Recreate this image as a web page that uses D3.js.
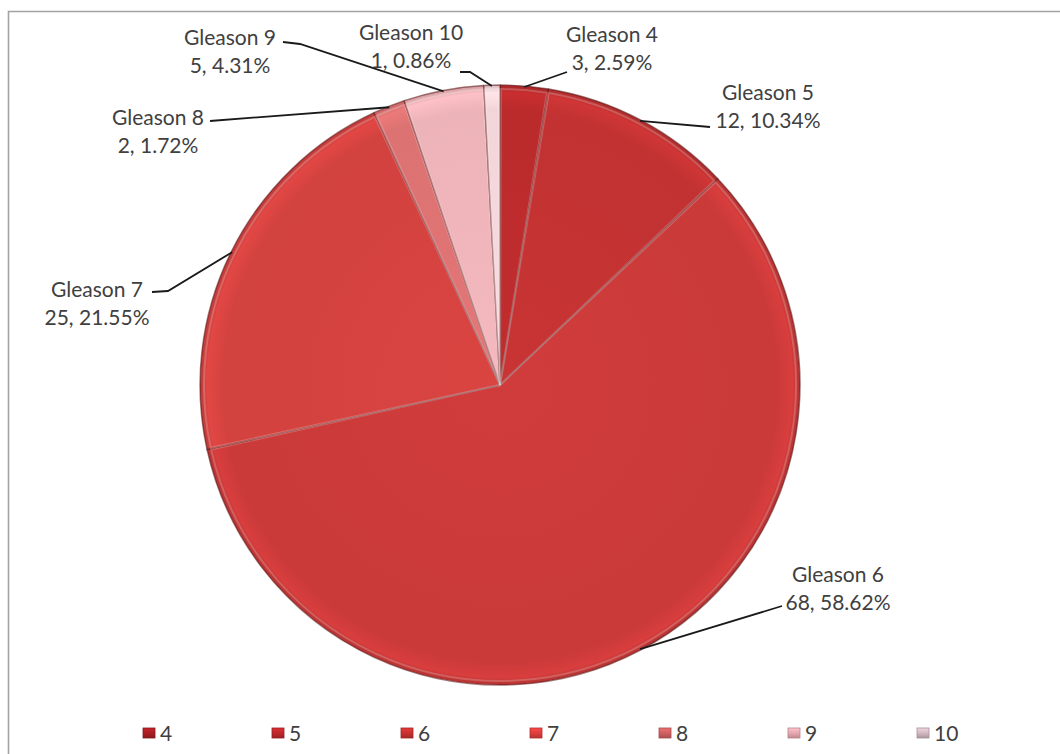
<!DOCTYPE html>
<html>
<head>
<meta charset="utf-8">
<script src="https://cdn.jsdelivr.net/npm/d3@7"></script>
<style>
  html, body { margin: 0; padding: 0; background: #fff; }
  svg { display: block; }
  text { font-family: Lato, "Open Sans", sans-serif; fill: #404040; }
</style>
</head>
<body>
<svg id="chart" width="1060" height="754"></svg>
<script>
// Gleason score distribution
const grades = ["4", "5", "6", "7", "8", "9", "10"];
const counts = [3, 12, 68, 25, 2, 5, 1];
const percents = ["2.59%", "10.34%", "58.62%", "21.55%", "1.72%", "4.31%", "0.86%"];

// slice fills and legend swatch fills
const sliceColors = ["#bb2b2c", "#c23232", "#c93a39", "#d2423f", "#dc7272", "#ecb3b8", "#f2d5d9"];
const swatchColors = ["#a51d22", "#b9262a", "#c2302d", "#d93c3c", "#c95e5f", "#e2a3ab", "#cbb3bb"];

// label placement: where each leader line ends and where its two text lines sit
const labelLayout = [
  { end: [567, 72],  text: [612, 35],  elbow: null },
  { end: [710, 127], text: [768, 93],  elbow: null },
  { end: [782, 606], text: [838, 575], elbow: null },
  { end: [152, 292], text: [97, 290],  elbow: [168, 291] },
  { end: [210, 121], text: [158, 118], elbow: null },
  { end: [283, 42],  text: [230, 38],  elbow: [300, 44] },
  { end: [460, 72],  text: [411, 33],  elbow: [470, 72] }
];

const svg = d3.select("#chart");
const cx = 500, cy = 385, R = 300;

// chart frame (top and left edges)
svg.append("path")
  .attr("d", "M8.5,754 L8.5,11.5 L1060,11.5")
  .attr("fill", "none")
  .attr("stroke", "#a3a3a3")
  .attr("stroke-width", 1.6);

const data = grades.map((g, i) => ({ grade: g, count: counts[i], pct: percents[i], i }));

const pie = d3.pie().value(d => d.count).sort(null);
const arcs = pie(data);
const arc = d3.arc().innerRadius(0).outerRadius(R);

// bevel-style gradient for each slice (coordinates local to the pie group)
const defs = svg.append("defs");
arcs.forEach((a, i) => {
  const c = d3.color(sliceColors[i]);
  const g = defs.append("radialGradient")
    .attr("id", "sg" + i)
    .attr("gradientUnits", "userSpaceOnUse")
    .attr("cx", 0).attr("cy", 0).attr("r", R);
  g.append("stop").attr("offset", "0%").attr("stop-color", c.brighter(0.1));
  g.append("stop").attr("offset", "92%").attr("stop-color", c);
  g.append("stop").attr("offset", "97.5%").attr("stop-color", c.brighter(0.2));
  g.append("stop").attr("offset", "100%").attr("stop-color", c.darker(0.35));
});

// legend swatch gradient
swatchColors.forEach((col, i) => {
  const c = d3.color(col);
  const g = defs.append("linearGradient")
    .attr("id", "lg" + i)
    .attr("x1", 0).attr("y1", 0).attr("x2", 0).attr("y2", 1);
  g.append("stop").attr("offset", "0%").attr("stop-color", c.brighter(0.5));
  g.append("stop").attr("offset", "60%").attr("stop-color", c);
  g.append("stop").attr("offset", "100%").attr("stop-color", c.darker(0.5));
});

const pieG = svg.append("g").attr("transform", `translate(${cx},${cy})`);

pieG.selectAll("path.slice")
  .data(arcs)
  .join("path")
  .attr("class", "slice")
  .attr("d", arc)
  .attr("fill", (d, i) => `url(#sg${i})`)
  .attr("stroke", "#5a1214")
  .attr("stroke-opacity", 0.55)
  .attr("stroke-width", 1.4)
  .attr("stroke-linejoin", "round");

// soft inner highlight along slice edges
const innerArc = d3.arc().innerRadius(0).outerRadius(R - 4).padAngle(0.006);
pieG.selectAll("path.hl")
  .data(arcs)
  .join("path")
  .attr("class", "hl")
  .attr("d", innerArc)
  .attr("fill", "none")
  .attr("stroke", "#ffffff")
  .attr("stroke-opacity", 0.2)
  .attr("stroke-width", 2);

// leader lines from the outer edge of each slice
const edge = d3.arc().innerRadius(R - 1).outerRadius(R - 1);
const labelsG = svg.append("g");
arcs.forEach((a, i) => {
  const [ex, ey] = edge.centroid(a);
  const L = labelLayout[i];
  const pts = [[cx + ex, cy + ey]];
  if (L.elbow) pts.push(L.elbow);
  pts.push(L.end);
  labelsG.append("path")
    .attr("d", d3.line()(pts))
    .attr("fill", "none")
    .attr("stroke", "#1a1a1a")
    .attr("stroke-width", 1.8);

  const t = labelsG.append("text")
    .attr("text-anchor", "middle")
    .attr("font-size", 21);
  t.append("tspan")
    .attr("x", L.text[0]).attr("y", L.text[1]).attr("dy", "0.35em")
    .text("Gleason " + a.data.grade);
  t.append("tspan")
    .attr("x", L.text[0]).attr("y", L.text[1] + 28).attr("dy", "0.35em")
    .text(a.data.count + ", " + a.data.pct);
});

// legend along the bottom
const legendX = d3.scalePoint().domain(grades).range([143, 917]);
const legend = svg.append("g");
grades.forEach((g, i) => {
  const x = legendX(g);
  legend.append("rect")
    .attr("x", x).attr("y", 728)
    .attr("width", 12).attr("height", 10)
    .attr("fill", `url(#lg${i})`)
    .attr("stroke", d3.color(swatchColors[i]).darker(0.6))
    .attr("stroke-width", 0.8);
  legend.append("text")
    .attr("x", x + 17).attr("y", 733).attr("dy", "0.36em")
    .attr("font-size", 21)
    .text(g);
});
</script>
</body>
</html>
